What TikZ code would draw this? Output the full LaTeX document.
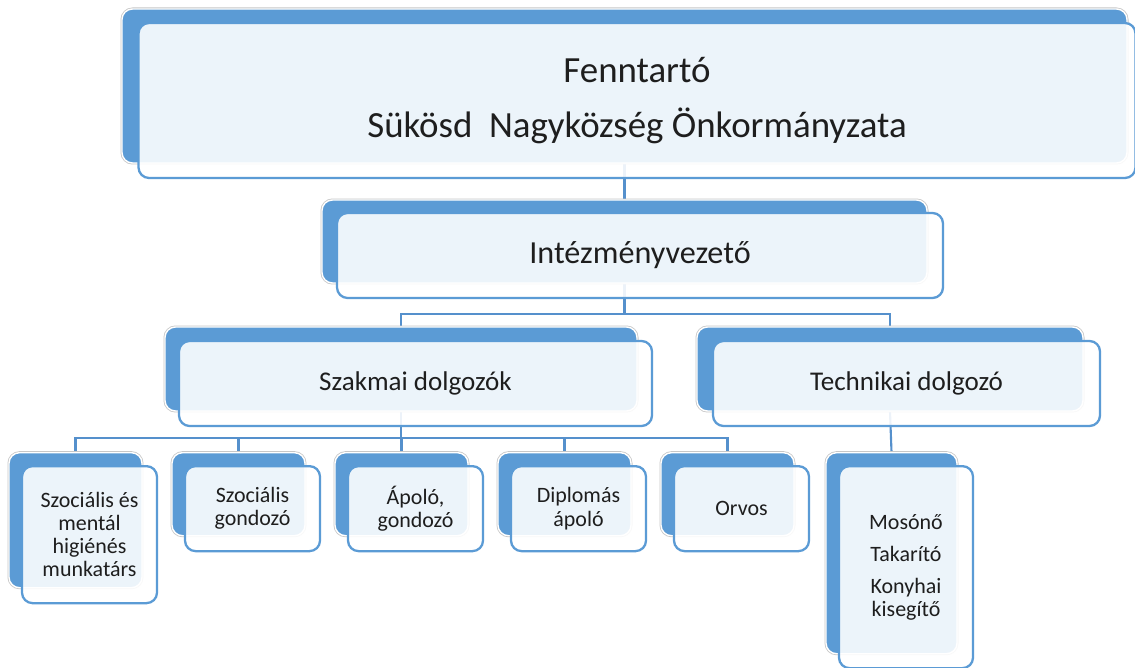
\documentclass[tikz,border=0pt]{standalone}
\usepackage{fontspec}
\setmainfont{Carlito}
\usetikzlibrary{backgrounds}
\definecolor{orgblue}{HTML}{5B9BD5}
\definecolor{lineblue}{HTML}{5590CC}
\definecolor{textgray}{HTML}{1E1E1E}
\tikzset{
  bsize/.style 2 args={minimum width=(#1)*0.02cm, minimum height=(#2)*0.02cm},
  backbox/.style={fill=orgblue, draw=white, line width=0.8pt, rounded corners=6pt,
    inner sep=0pt, preaction={draw=black!22, line width=1.7pt}},
  frontbox/.style={fill=white, fill opacity=0.89, text opacity=1, draw=orgblue,
    line width=1.3pt, rounded corners=6pt, inner sep=0pt, align=center, text=textgray},
  conn/.style={draw=lineblue, line width=1.2pt}
}
\begin{document}
\begin{tikzpicture}[x=0.02cm, y=-0.02cm]
  \useasboundingbox (0,0) rectangle (1135,668);
  % fenntarto
  \node[backbox, bsize={1005}{154}] (b-fenntarto) at (624.5,86) {};
  \node[frontbox, bsize={997}{155}, font=\fontsize{21}{31}\selectfont] (fenntarto)
    at (637,100.5) {Fenntartó\\Sükösd~~Nagyközség Önkormányzata};
  % intezmenyvezeto
  \node[backbox, bsize={605}{83}] (b-vezeto) at (624.5,241.5) {};
  \node[frontbox, bsize={606}{85}, font=\fontsize{18.3}{22}\selectfont] (vezeto)
    at (640,255.5) {Intézményvezető};
  % dolgozok
  \node[backbox, bsize={472}{84}] (b-szakmai) at (401,369) {};
  \node[frontbox, bsize={473}{85}, font=\fontsize{15.4}{18}\selectfont] (szakmai)
    at (415.5,383.5) {Szakmai dolgozók};
  \node[backbox, bsize={386}{84}] (b-technikai) at (890,369) {};
  \node[frontbox, bsize={387}{85}, font=\fontsize{15.4}{18}\selectfont] (technikai)
    at (906.5,383.5) {Technikai dolgozó};
  % szakmai dolgozok
  \foreach \n/\i/\h/\txt in {szoc1/0/135/{Szociális és\\mentál\\higiénés\\munkatárs},
      szoc2/1/83/{Szociális\\gondozó}, apolo/2/83/{Ápoló,\\gondozó},
      diplomas/3/83/{Diplomás\\ápoló}, orvos/4/83/{Orvos}} {
    \node[backbox, bsize={133}{\h}, anchor=north] (b-\n) at (75.5+163*\i,452) {};
    \node[frontbox, bsize={135}{\h+2}, anchor=north, font=\fontsize{12.5}{13.2}\selectfont]
      (\n) at (89.5+163*\i,465) {\txt};
  }
  % technikai dolgozo
  \node[backbox, bsize={131}{201}, anchor=north] (b-tech) at (891.5,452) {};
  \node[frontbox, bsize={134}{202}, anchor=north, font=\fontsize{12.5}{13.2}\selectfont]
    (tech) at (906,465) {Mosónő\\[5pt]Takarító\\[5pt]Konyhai\\kisegítő};
  % vonalak
  \begin{scope}[on background layer]
    \fill[white] (0,0) rectangle (1135,668);
    \draw[conn] (b-fenntarto.south) -- (b-vezeto.north);
    \draw[conn] (b-vezeto.south) -- ++(0,30) -| (b-szakmai.north);
    \draw[conn] (b-vezeto.south) -- ++(0,30) -| (b-technikai.north);
    \foreach \n in {szoc1,szoc2,apolo,diplomas,orvos} {
      \draw[conn] (b-szakmai.south) -- ++(0,26) -| (b-\n.north);
    }
    \draw[conn] (b-technikai.south) -- (b-tech.north);
  \end{scope}
\end{tikzpicture}
\end{document}
